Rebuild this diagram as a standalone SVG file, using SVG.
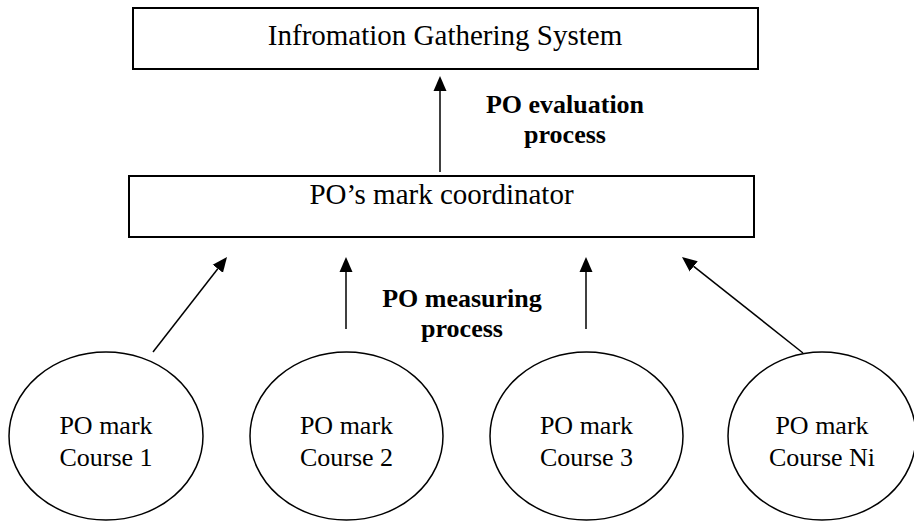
<svg xmlns="http://www.w3.org/2000/svg" width="914" height="521" viewBox="0 0 914 521">
  <style>
    .box { fill: #fff; stroke: #000; stroke-width: 2; }
    .oval { fill: #fff; stroke: #000; stroke-width: 1.5; }
    .t { font-family: "Liberation Serif", "Times New Roman", serif; fill: #000; text-anchor: middle; }
    .big { font-size: 29px; }
    .mid { font-size: 26px; }
    .lbl { font-size: 26px; font-weight: bold; }
    .conn { stroke: #000; stroke-width: 1.5; fill: none; marker-end: url(#ah); }
  </style>
  <defs>
    <marker id="ah" markerUnits="userSpaceOnUse" markerWidth="16" markerHeight="14" refX="0" refY="7" orient="auto">
      <path d="M0,0.5 L15,7 L0,13.5 z" fill="#000"/>
    </marker>
  </defs>
  <rect width="914" height="521" fill="#fff"/>
  <g id="info-system">
    <rect class="box" x="133" y="8" width="625" height="61"/>
    <text class="t big" x="445" y="45">Infromation Gathering System</text>
  </g>
  <g id="coordinator">
    <rect class="box" x="129" y="176" width="625" height="61"/>
    <text class="t big" x="441.5" y="204">PO’s mark coordinator</text>
  </g>
  <g id="course1">
    <ellipse class="oval" cx="106" cy="436" rx="97" ry="84"/>
    <text class="t mid" x="106" y="434">PO mark</text>
    <text class="t mid" x="106" y="466">Course 1</text>
  </g>
  <g id="course2">
    <ellipse class="oval" cx="346.5" cy="436" rx="96.5" ry="84"/>
    <text class="t mid" x="346.5" y="434">PO mark</text>
    <text class="t mid" x="346.5" y="466">Course 2</text>
  </g>
  <g id="course3">
    <ellipse class="oval" cx="586.5" cy="436" rx="96.5" ry="84"/>
    <text class="t mid" x="586.5" y="434">PO mark</text>
    <text class="t mid" x="586.5" y="466">Course 3</text>
  </g>
  <g id="courseNi">
    <ellipse class="oval" cx="822" cy="436" rx="94" ry="84"/>
    <text class="t mid" x="822" y="434">PO mark</text>
    <text class="t mid" x="822" y="466">Course Ni</text>
  </g>
  <g id="connectors">
    <line class="conn" x1="440" y1="172" x2="440" y2="91"/>
    <line class="conn" x1="153" y1="352" x2="217.8" y2="268.8"/>
    <line class="conn" x1="346" y1="329" x2="346" y2="272"/>
    <line class="conn" x1="586" y1="329" x2="586" y2="272"/>
    <line class="conn" x1="803" y1="353" x2="693.7" y2="266.3"/>
  </g>
  <g id="labels">
    <text class="t lbl" x="565" y="113">PO evaluation</text>
    <text class="t lbl" x="565" y="143">process</text>
    <text class="t lbl" x="462" y="307">PO measuring</text>
    <text class="t lbl" x="462" y="337">process</text>
  </g>
</svg>
